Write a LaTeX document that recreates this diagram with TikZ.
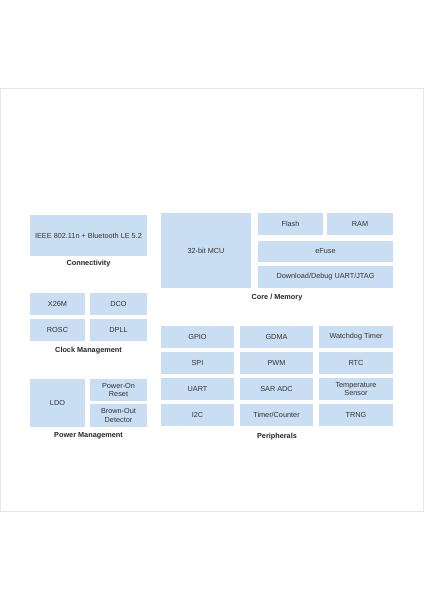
\documentclass[tikz,border=0pt]{standalone}
\usepackage{fontspec}
\setmainfont{Liberation Sans}
\definecolor{boxfill}{HTML}{C9DDF3}
\definecolor{boxtext}{HTML}{333333}
\definecolor{frameline}{HTML}{E6E6E6}
\begin{document}
\begin{tikzpicture}[x=1pt,y=-1pt,
  blk/.style={fill=boxfill,draw=none,inner sep=0pt,align=center,text=boxtext,
    font=\fontsize{7.3}{8.4}\selectfont},
  grp/.style={inner sep=0pt,text=black!85,font=\fontsize{7.3}{8.4}\selectfont\bfseries}]
\useasboundingbox (0,0) rectangle (424,600);
\fill[white] (0,0) rectangle (424,600);
\draw[frameline,line width=0.8pt] (0.5,88) rectangle (423,511);
% Connectivity
\node[blk,minimum width=117,minimum height=41] (wifi) at (88.5,235.5) {IEEE 802.11n + Bluetooth LE 5.2};
\node[grp] (lconn) at (88.5,264) {Connectivity};
% Core / Memory
\node[blk,minimum width=90,minimum height=75] (mcu) at (206,250.5) {32-bit MCU};
\node[blk,minimum width=65,minimum height=22] (flash) at (290.5,224) {Flash};
\node[blk,minimum width=66,minimum height=22] (ram) at (360,224) {RAM};
\node[blk,minimum width=135,minimum height=21] (efuse) at (325.5,251.5) {eFuse};
\node[blk,minimum width=135,minimum height=22] (dl) at (325.5,277) {Download/Debug UART/JTAG};
\node[grp] (lcore) at (277,298) {Core / Memory};
% Clock Management
\node[blk,minimum width=55,minimum height=22] (x26) at (57.5,304) {X26M};
\node[blk,minimum width=57,minimum height=22] (dco) at (118.5,304) {DCO};
\node[blk,minimum width=55,minimum height=22] (rosc) at (57.5,330) {ROSC};
\node[blk,minimum width=57,minimum height=22] (dpll) at (118.5,330) {DPLL};
\node[grp] (lclk) at (88.5,351) {Clock Management};
% Power Management
\node[blk,minimum width=55,minimum height=48] (ldo) at (57.5,403) {LDO};
\node[blk,minimum width=57,minimum height=22] (por) at (118.5,390) {Power-On\\Reset};
\node[blk,minimum width=57,minimum height=23] (bod) at (118.5,415.5) {Brown-Out\\Detector};
\node[grp] (lpwr) at (88.5,436) {Power Management};
% Peripherals
\node[blk,minimum width=73,minimum height=22] (gpio) at (197.5,337) {GPIO};
\node[blk,minimum width=73,minimum height=22] (gdma) at (276.5,337) {GDMA};
\node[blk,minimum width=74,minimum height=22] (wdt) at (356,337) {Watchdog Timer};
\node[blk,minimum width=73,minimum height=22] (spi) at (197.5,363) {SPI};
\node[blk,minimum width=73,minimum height=22] (pwm) at (276.5,363) {PWM};
\node[blk,minimum width=74,minimum height=22] (rtc) at (356,363) {RTC};
\node[blk,minimum width=73,minimum height=22] (uart) at (197.5,389) {UART};
\node[blk,minimum width=73,minimum height=22] (adc) at (276.5,389) {SAR ADC};
\node[blk,minimum width=74,minimum height=22] (temp) at (356,389) {Temperature\\Sensor};
\node[blk,minimum width=73,minimum height=22] (i2c) at (197.5,415) {I2C};
\node[blk,minimum width=73,minimum height=22] (tc) at (276.5,415) {Timer/Counter};
\node[blk,minimum width=74,minimum height=22] (trng) at (356,415) {TRNG};
\node[grp] (lper) at (277,437) {Peripherals};
\end{tikzpicture}
\end{document}
